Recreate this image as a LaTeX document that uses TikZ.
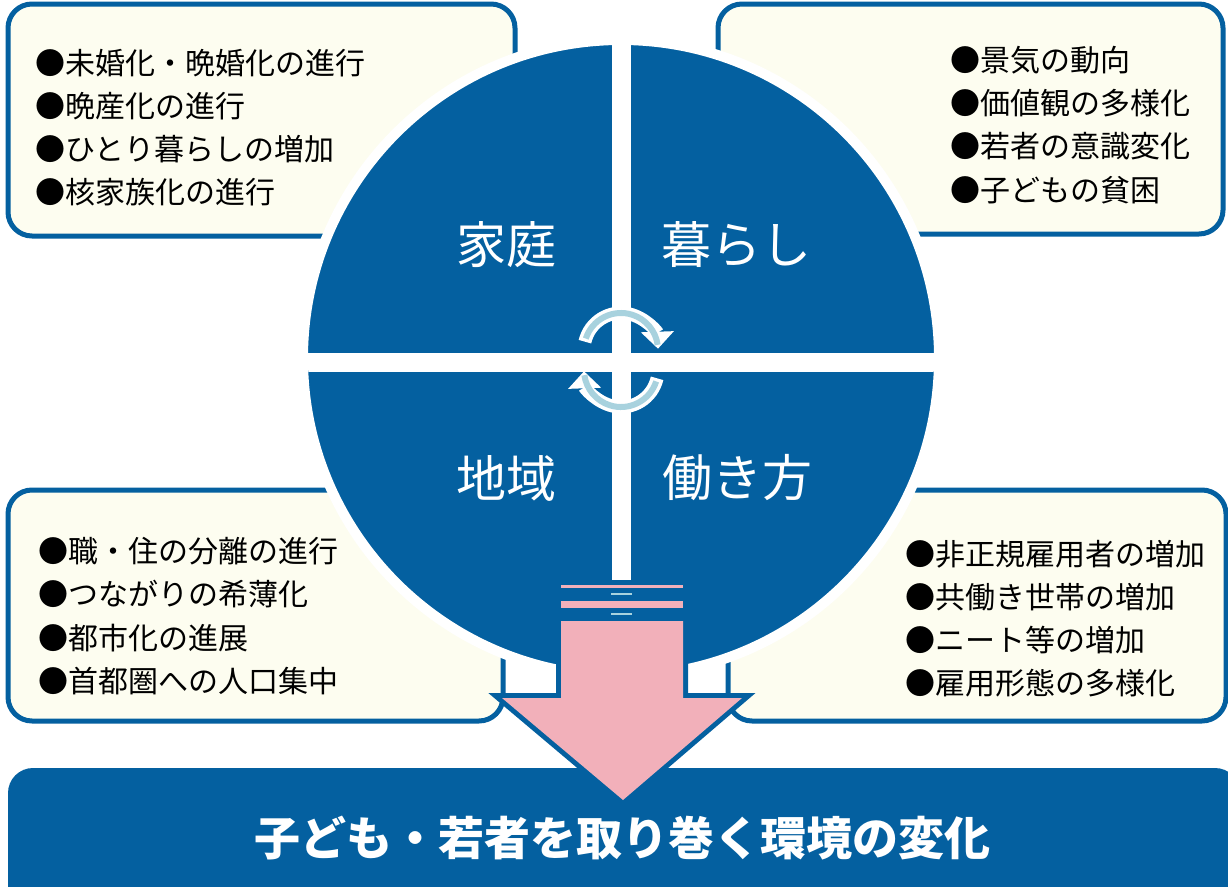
\documentclass[tikz,border=0pt]{standalone}
\usepackage{fontspec}
\newfontfamily\jp{Noto Sans CJK JP}
\usetikzlibrary{arrows.meta}
\definecolor{dblue}{RGB}{4,96,160}
\definecolor{cream}{RGB}{253,253,240}
\definecolor{pinkf}{RGB}{242,176,186}
\definecolor{lblue}{RGB}{168,210,222}
\begin{document}
\begin{tikzpicture}[x=1pt,y=-1pt,
  infobox/.style={draw=dblue, fill=cream, line width=5pt, rounded corners=24pt},
  boxtext/.style={anchor=west, align=left, inner sep=0pt, text=black,
    font=\jp\fontsize{30}{43.2}\selectfont},
  quadtext/.style={inner sep=0pt, text=white, font=\jp\fontsize{50}{50}\selectfont},
  bannertext/.style={inner sep=0pt, text=white, font=\jp\bfseries\fontsize{46}{46}\selectfont},
  cyclewhite/.style={white, line width=13pt, -{Triangle[width=32pt,length=17pt]}},
  cycleblue/.style={lblue, line width=6pt}
]
\useasboundingbox (0,0) rectangle (1228,886);
\clip (0,0) rectangle (1228,886);

% information boxes
\draw[infobox] (8,4) rectangle (515,236);
\draw[infobox] (718,4) rectangle (1223,234);
\draw[infobox] (8,490) rectangle (503,721);
\draw[infobox] (728,490) rectangle (1226,721);

% big circle
\fill[dblue] (621,358) circle[radius=318];
\draw[white, line width=10pt] (621,358) circle[radius=318];
\begin{scope}
  \clip (621,358) circle[radius=313];
  \fill[white] (612,0) rectangle (631,580);
  \fill[white] (290,353) rectangle (950,372);
\end{scope}

% cycle arrows
\draw[cyclewhite] (621,350) ++(-167:37) arc[start angle=-167, end angle=-2, radius=37];
\draw[cycleblue] (621,350) ++(-162:37) arc[start angle=-162, end angle=-8, radius=37];
\draw[cyclewhite] (621,370) ++(13:37) arc[start angle=13, end angle=178, radius=37];
\draw[cycleblue] (621,370) ++(18:37) arc[start angle=18, end angle=172, radius=37];

% quadrant labels
\node[quadtext] (katei) at (506,245) {家庭};
\node[quadtext] (kurashi) at (736,245) {暮らし};
\node[quadtext] (chiiki) at (506,478) {地域};
\node[quadtext] (hatarakikata) at (737,478) {働き方};

% box texts
\node[boxtext] (tl) at (35,127.5) {●未婚化・晩婚化の進行\\●晩産化の進行\\●ひとり暮らしの増加\\●核家族化の進行};
\node[boxtext] (tr) at (950,125) {●景気の動向\\●価値観の多様化\\●若者の意識変化\\●子どもの貧困};
\node[boxtext] (bl) at (38,616) {●職・住の分離の進行\\●つながりの希薄化\\●都市化の進展\\●首都圏への人口集中};
\node[boxtext] (br) at (905,618.5) {●非正規雇用者の増加\\●共働き世帯の増加\\●ニート等の増加\\●雇用形態の多様化};

% banner
\fill[dblue, rounded corners=25pt] (8,768) rectangle (1240,930);

% big arrow
\fill[pinkf] (561,585) rectangle (683,587.5);
\fill[lblue] (611,593) rectangle (632,595);
\fill[pinkf] (561,600.5) rectangle (683,608);
\fill[lblue] (611,613) rectangle (632,615);
\draw[dblue, line width=10pt, line join=miter, miter limit=4]
  (561,621) -- (683,621) -- (683,698) -- (742,698) -- (623,800) -- (502,698) -- (561,698) -- cycle;
\fill[pinkf]
  (561,621) -- (683,621) -- (683,698) -- (742,698) -- (623,800) -- (502,698) -- (561,698) -- cycle;

\node[bannertext] (banner) at (622,838) {子ども・若者を取り巻く環境の変化};
\end{tikzpicture}
\end{document}
